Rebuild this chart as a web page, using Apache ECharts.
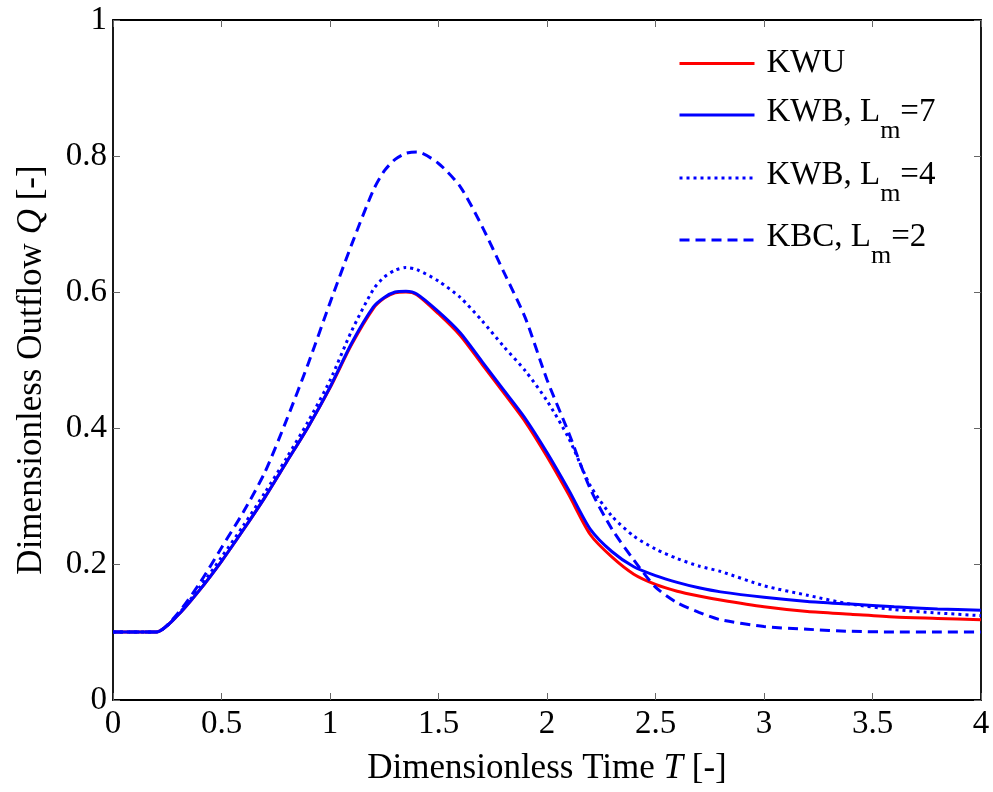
<!DOCTYPE html>
<html>
<head>
<meta charset="utf-8">
<script src="https://cdn.jsdelivr.net/npm/echarts@6/dist/echarts.min.js"></script>
<style>
  html, body { margin: 0; padding: 0; background: #fff; }
  #chart { width: 993px; height: 792px; }
</style>
</head>
<body>
<div id="chart"></div>
<script>
// Dimensionless time grid shared by all outflow hydrographs
const timeT = [0, 0.2, 0.3, 0.4, 0.5, 0.6, 0.7, 0.8, 0.9, 1.0, 1.1, 1.2, 1.25, 1.3, 1.35, 1.4,
  1.5, 1.6, 1.7, 1.8, 1.9, 2.0, 2.1, 2.2, 2.3, 2.4, 2.5, 2.6, 2.7, 2.8, 3.0, 3.2, 3.4, 3.6, 3.8, 4.0];

// Dimensionless outflow Q for each scheme
const qKWU = [0.1, 0.1, 0.125, 0.162, 0.204, 0.250, 0.298, 0.350, 0.402, 0.459, 0.523, 0.576, 0.591, 0.599, 0.600, 0.596,
  0.568, 0.536, 0.494, 0.452, 0.409, 0.358, 0.302, 0.243, 0.210, 0.185, 0.170, 0.160, 0.153, 0.147, 0.137, 0.130, 0.126, 0.122, 0.120, 0.118];
const qKWB7 = [0.1, 0.1, 0.125, 0.162, 0.204, 0.250, 0.298, 0.350, 0.402, 0.460, 0.525, 0.578, 0.592, 0.600, 0.601, 0.597,
  0.571, 0.540, 0.498, 0.456, 0.414, 0.364, 0.309, 0.251, 0.218, 0.196, 0.183, 0.173, 0.165, 0.159, 0.151, 0.145, 0.141, 0.137, 0.134, 0.132];
const qKWB4 = [0.1, 0.1, 0.126, 0.166, 0.210, 0.256, 0.305, 0.356, 0.410, 0.470, 0.543, 0.604, 0.622, 0.632, 0.636, 0.633,
  0.616, 0.592, 0.558, 0.520, 0.484, 0.440, 0.385, 0.315, 0.270, 0.241, 0.222, 0.208, 0.197, 0.189, 0.168, 0.154, 0.141, 0.133, 0.128, 0.124];
const qKBC2 = [0.1, 0.1, 0.128, 0.172, 0.224, 0.276, 0.335, 0.412, 0.495, 0.584, 0.670, 0.750, 0.778, 0.795, 0.804, 0.806,
  0.789, 0.755, 0.697, 0.630, 0.562, 0.471, 0.393, 0.310, 0.251, 0.206, 0.166, 0.143, 0.129, 0.118, 0.108, 0.104, 0.101, 0.100, 0.100, 0.100];

const seriesNames = ['KWU', 'KWB, L_m=7', 'KWB, L_m=4', 'KBC, L_m=2'];
const xTicks = { min: 0, max: 4, interval: 0.5 };
const yTicks = { min: 0, max: 1, interval: 0.2 };

const FONT = "'Liberation Serif', 'DejaVu Serif', serif";
const pairs = (ys) => timeT.map((t, i) => [t, ys[i]]);

const frameAxis = {
  axisLine: { show: true, onZero: false, lineStyle: { color: '#000', width: 1.8 } },
  axisTick: { show: true, inside: true, length: 7, lineStyle: { color: '#666', width: 1 } },
  splitLine: { show: false },
  minorTick: { show: false }
};

const lineSeries = (name, ys, color, type) => ({
  name: name,
  type: 'line',
  data: pairs(ys),
  showSymbol: false,
  symbol: 'none',
  symbolSize: 0,
  smooth: 0.25,
  clip: true,
  lineStyle: { color: color, width: 3, type: type },
  itemStyle: { color: color },
  emphasis: { disabled: true },
  animation: false
});

// One legend block per entry so each row sits at its own height
const legendTops = [47, 96, 159, 221];
const legendRow = (name, top) => ({
  orient: 'vertical',
  left: 678,
  top: top,
  padding: 0,
  itemWidth: 75,
  itemHeight: 14,
  selectedMode: false,
  data: [name],
  itemStyle: { opacity: 0 },
  lineStyle: { width: 3 },
  formatter: function (n) {
    const m = n.match(/^(.*)L_m(.*)$/);
    if (!m) return '{k|' + n + '}';
    return '{a|' + m[1] + 'L}{s|m}{a|' + m[2] + '}';
  },
  textStyle: {
    color: '#000',
    fontFamily: FONT,
    fontSize: 33,
    padding: [0, 0, 0, 7],
    rich: {
      k: { fontFamily: FONT, fontSize: 33, color: '#000', padding: [5, 0, 5, 0] },
      a: { fontFamily: FONT, fontSize: 33, color: '#000', padding: [0, 0, 5, 0] },
      s: { fontFamily: FONT, fontSize: 26, color: '#000', padding: [33, 0, 0, 0] }
    }
  }
});

const chart = echarts.init(document.getElementById('chart'), null, { renderer: 'canvas' });
chart.setOption({
  backgroundColor: '#fff',
  animation: false,
  grid: { left: 113, right: 12, top: 20, bottom: 92 },
  xAxis: [
    Object.assign({
      type: 'value', position: 'bottom', min: xTicks.min, max: xTicks.max, interval: xTicks.interval,
      name: '{a|Dimensionless Time }{i|T}{a| [-]}',
      nameLocation: 'middle', nameGap: 51,
      nameTextStyle: {
        rich: {
          a: { fontFamily: FONT, fontSize: 35, color: '#000' },
          i: { fontFamily: FONT, fontSize: 35, fontStyle: 'italic', color: '#000' }
        }
      },
      axisLabel: { fontFamily: FONT, fontSize: 33, color: '#000', margin: 8 }
    }, frameAxis),
    Object.assign({
      type: 'value', position: 'top', min: xTicks.min, max: xTicks.max, interval: xTicks.interval,
      axisLabel: { show: false }
    }, frameAxis)
  ],
  yAxis: [
    Object.assign({
      type: 'value', position: 'left', min: yTicks.min, max: yTicks.max, interval: yTicks.interval,
      name: '{a|Dimensionless Outflow }{i|Q}{a| [-]}',
      nameLocation: 'middle', nameGap: 64, nameRotate: 90,
      nameTextStyle: {
        padding: [0, 20, 0, 0],
        rich: {
          a: { fontFamily: FONT, fontSize: 35, color: '#000' },
          i: { fontFamily: FONT, fontSize: 35, fontStyle: 'italic', color: '#000' }
        }
      },
      axisLabel: { fontFamily: FONT, fontSize: 33, color: '#000', margin: 6 }
    }, frameAxis),
    Object.assign({
      type: 'value', position: 'right', min: yTicks.min, max: yTicks.max, interval: yTicks.interval,
      axisLabel: { show: false }
    }, frameAxis)
  ],
  legend: seriesNames.map((n, i) => legendRow(n, legendTops[i])),
  series: [
    lineSeries(seriesNames[0], qKWU, '#ff0000', 'solid'),
    lineSeries(seriesNames[1], qKWB7, '#0000ff', 'solid'),
    lineSeries(seriesNames[2], qKWB4, '#0000ff', [3, 4]),
    lineSeries(seriesNames[3], qKBC2, '#0000ff', [10, 6])
  ]
});
</script>
</body>
</html>
